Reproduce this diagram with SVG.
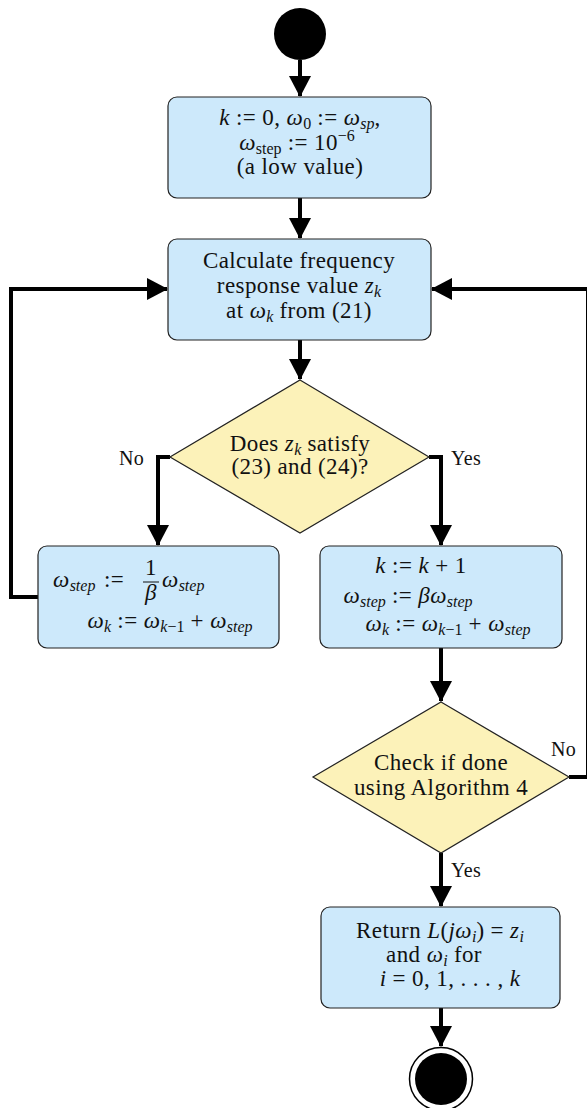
<svg xmlns="http://www.w3.org/2000/svg" width="587" height="1108" viewBox="0 0 587 1108">
<style>
text{font-family:"Liberation Serif","DejaVu Serif",serif;font-size:23px;letter-spacing:0.4px;fill:#111}
.i{font-style:italic}
.s{font-size:16px;letter-spacing:0}
.box{fill:#cde9fb;stroke:#222;stroke-width:1.2}
.dia{fill:#fcf2b9;stroke:#222;stroke-width:1.2}
.c{fill:none;stroke:#000;stroke-width:4}
.lbl{font-size:20px}
</style>
<defs>
<marker id="ah" markerUnits="userSpaceOnUse" markerWidth="22" markerHeight="22" viewBox="0 0 22 22" refX="20" refY="11" orient="auto">
<path d="M0,0 L21,11 L0,22 Z" fill="#000"/>
</marker>
</defs>
<g id="connectors">
<path class="c" d="M300,60 V96" marker-end="url(#ah)"/>
<path class="c" d="M300,198 V238" marker-end="url(#ah)"/>
<path class="c" d="M300,340 V379" marker-end="url(#ah)"/>
<path class="c" d="M170,457 H158 V545" marker-end="url(#ah)"/>
<path class="c" d="M429,457 H441 V545" marker-end="url(#ah)"/>
<path class="c" d="M38,597 H11 V289 H167" marker-end="url(#ah)"/>
<path class="c" d="M569,777 H588 V289 H432" marker-end="url(#ah)"/>
<path class="c" d="M441,648 V701" marker-end="url(#ah)"/>
<path class="c" d="M441,853 V906" marker-end="url(#ah)"/>
<path class="c" d="M441,1008 V1046" marker-end="url(#ah)"/>
<text class="lbl" x="119" y="465">No</text>
<text class="lbl" x="451" y="465">Yes</text>
<text class="lbl" x="551" y="756">No</text>
<text class="lbl" x="451" y="877">Yes</text>
</g>
<g id="start">
<circle cx="300" cy="34" r="26" fill="#000"/>
</g>
<g id="init">
<rect class="box" x="168" y="97" width="263" height="101" rx="9"/>
<text x="300" y="125" text-anchor="middle"><tspan class="i">k</tspan> := 0, <tspan class="i">ω</tspan><tspan class="s" dy="4">0</tspan><tspan dy="-4"> := </tspan><tspan class="i">ω</tspan><tspan class="s i" dy="4">sp</tspan><tspan dy="-4">,</tspan></text>
<text x="297" y="150" text-anchor="middle"><tspan class="i">ω</tspan><tspan class="s" dy="4">step</tspan><tspan dy="-4"> := 10</tspan><tspan class="s" dy="-9">−6</tspan></text>
<text x="300" y="174" text-anchor="middle">(a low value)</text>
</g>
<g id="calc">
<rect class="box" x="168" y="239" width="263" height="101" rx="9"/>
<text x="299" y="268" text-anchor="middle">Calculate frequency</text>
<text x="299" y="293" text-anchor="middle">response value <tspan class="i">z</tspan><tspan class="s i" dy="4">k</tspan></text>
<text x="299" y="318" text-anchor="middle">at <tspan class="i">ω</tspan><tspan class="s i" dy="4">k</tspan><tspan dy="-4"> from (21)</tspan></text>
</g>
<g id="check1">
<polygon class="dia" points="300,380 429,457 300,533 170,457"/>
<text x="300" y="451" text-anchor="middle">Does <tspan class="i">z</tspan><tspan class="s i" dy="4">k</tspan><tspan dy="-4"> satisfy</tspan></text>
<text x="300" y="474" text-anchor="middle">(23) and (24)?</text>
</g>
<g id="decrease">
<rect class="box" x="38" y="546" width="241" height="102" rx="9"/>
<text y="587"><tspan class="i" x="53">ω</tspan><tspan class="s i" dy="4">step</tspan><tspan x="104" dy="-4">:=</tspan></text>
<text x="151" y="575" text-anchor="middle">1</text>
<line x1="143" y1="582" x2="159" y2="582" stroke="#111" stroke-width="1"/>
<text x="151" y="600" text-anchor="middle" class="i">β</text>
<text x="162" y="587"><tspan class="i">ω</tspan><tspan class="s i" dy="4">step</tspan></text>
<text x="170" y="628" text-anchor="middle"><tspan class="i">ω</tspan><tspan class="s i" dy="4">k</tspan><tspan dy="-4"> := </tspan><tspan class="i">ω</tspan><tspan class="s i" dy="4">k</tspan><tspan class="s">−1</tspan><tspan dy="-4"> + </tspan><tspan class="i">ω</tspan><tspan class="s i" dy="4">step</tspan></text>
</g>
<g id="increase">
<rect class="box" x="320" y="546" width="242" height="102" rx="9"/>
<text x="421" y="573" text-anchor="middle"><tspan class="i">k</tspan> := <tspan class="i">k</tspan> + 1</text>
<text x="408" y="603" text-anchor="middle"><tspan class="i">ω</tspan><tspan class="s i" dy="4">step</tspan><tspan dy="-4"> := </tspan><tspan class="i">βω</tspan><tspan class="s i" dy="4">step</tspan></text>
<text x="448" y="631" text-anchor="middle"><tspan class="i">ω</tspan><tspan class="s i" dy="4">k</tspan><tspan dy="-4"> := </tspan><tspan class="i">ω</tspan><tspan class="s i" dy="4">k</tspan><tspan class="s">−1</tspan><tspan dy="-4"> + </tspan><tspan class="i">ω</tspan><tspan class="s i" dy="4">step</tspan></text>
</g>
<g id="check2">
<polygon class="dia" points="441,702 569,777 441,853 313,777"/>
<text x="441" y="770" text-anchor="middle">Check if done</text>
<text x="441" y="795" text-anchor="middle">using Algorithm 4</text>
</g>
<g id="return">
<rect class="box" x="321" y="907" width="239" height="101" rx="9"/>
<text x="440" y="938" text-anchor="middle">Return <tspan class="i">L</tspan>(<tspan class="i">jω</tspan><tspan class="s i" dy="4">i</tspan><tspan dy="-4">) = </tspan><tspan class="i">z</tspan><tspan class="s i" dy="4">i</tspan></text>
<text x="434" y="962" text-anchor="middle">and <tspan class="i">ω</tspan><tspan class="s i" dy="4">i</tspan><tspan dy="-4"> for</tspan></text>
<text x="450" y="986" text-anchor="middle"><tspan class="i">i</tspan> = 0, 1, . . . , <tspan class="i">k</tspan></text>
</g>
<g id="end">
<circle cx="441" cy="1079" r="31.5" fill="#fff" stroke="#000" stroke-width="1.5"/>
<circle cx="441" cy="1079" r="26" fill="#000"/>
</g>
</svg>
